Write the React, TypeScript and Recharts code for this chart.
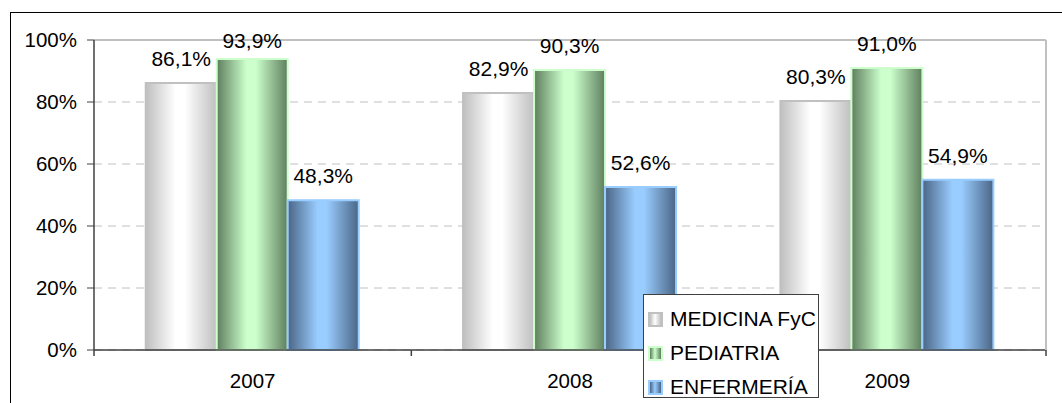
import { Bar, BarChart, CartesianGrid, LabelList, ReferenceLine, XAxis, YAxis } from 'recharts'

const years = ['2007', '2008', '2009']
const medicina = [86.1, 82.9, 80.3]
const pediatria = [93.9, 90.3, 91.0]
const enfermeria = [48.3, 52.6, 54.9]
const yTicks = [0, 20, 40, 60, 80, 100]

const series = [
  { key: 'medicina', name: 'MEDICINA FyC', dark: '#bfbfbf', light: '#ffffff', stroke: '#c0c0c0' },
  { key: 'pediatria', name: 'PEDIATRIA', dark: '#5e7e5e', light: '#ccffcc', stroke: '#ccffcc' },
  { key: 'enfermeria', name: 'ENFERMERÍA', dark: '#4a6585', light: '#99ccff', stroke: '#99ccff' },
]

const chartData = years.map((year, i) => ({
  year,
  medicina: medicina[i],
  pediatria: pediatria[i],
  enfermeria: enfermeria[i],
}))

const FONT = '"Liberation Sans", Arial, sans-serif'
const TICK_MARGIN = 23

function pct(v: number) {
  return v.toFixed(1).replace('.', ',') + '%'
}

// Excel pushes labels down when they would leave the chart area
function TopLabel(props: any) {
  const { x, y, width, value } = props
  const baseline = Math.max(Number(y) - 17, 48)
  return (
    <text x={Number(x) + Number(width) / 2} y={baseline} textAnchor="middle" fontSize={21} fill="#000" fontFamily={FONT}>
      {pct(Number(value))}
    </text>
  )
}

// category label plus Excel-style tick marks on the category boundaries
function YearTick(props: any) {
  const { x, y, payload } = props
  const half = Number(payload?.offset ?? 0)
  const axisY = Number(y) - TICK_MARGIN
  const last = payload?.index === years.length - 1
  return (
    <g>
      <line x1={x - half} x2={x - half} y1={axisY} y2={axisY + 6} stroke="#404040" strokeWidth={1.5} />
      {last ? <line x1={x + half} x2={x + half} y1={axisY} y2={axisY + 6} stroke="#404040" strokeWidth={1.5} /> : null}
      <text x={x} y={y} dy="0.71em" textAnchor="middle" fontSize={20.5} fill="#000" fontFamily={FONT}>
        {payload?.value}
      </text>
    </g>
  )
}

export default function App() {
  return (
    <div style={{ position: 'absolute', left: 0, top: 0, width: 1062, height: 403, background: '#fff', overflow: 'hidden', fontFamily: FONT }}>
      <div style={{ position: 'absolute', left: 10, top: 12, width: 1100, height: 450, borderLeft: '1px solid #000', borderTop: '1px solid #000' }} />
      <BarChart
        width={1062}
        height={403}
        data={chartData}
        margin={{ top: 40, right: 15, bottom: 0, left: 10 }}
        barCategoryGap="16.3%"
        barGap={0}
      >
        <defs>
          {series.map((s) => (
            <linearGradient key={s.key} id={`grad-${s.key}`} x1="0" y1="0" x2="1" y2="0">
              <stop offset="0%" stopColor={s.dark} />
              <stop offset="42%" stopColor={s.light} />
              <stop offset="55%" stopColor={s.light} />
              <stop offset="100%" stopColor={s.dark} />
            </linearGradient>
          ))}
        </defs>
        <CartesianGrid vertical={false} stroke="#c0c0c0" strokeDasharray="8 6" />
        <ReferenceLine y={100} stroke="#c0c0c0" strokeWidth={2} />
        <XAxis
          dataKey="year"
          height={53}
          tickLine={false}
          tickSize={0}
          tickMargin={TICK_MARGIN}
          axisLine={{ stroke: '#404040', strokeWidth: 1.5 }}
          tick={<YearTick />}
        />
        <YAxis
          domain={[0, 100]}
          ticks={yTicks}
          width={84}
          tickSize={7}
          tickMargin={10}
          tickFormatter={(v) => `${v}%`}
          axisLine={{ stroke: '#404040', strokeWidth: 1.5 }}
          tickLine={{ stroke: '#404040' }}
          tick={{ fill: '#000', fontSize: 20.5, fontFamily: FONT }}
        />
        <YAxis
          yAxisId="right"
          orientation="right"
          domain={[0, 100]}
          width={1}
          tick={false}
          tickLine={false}
          axisLine={{ stroke: '#c0c0c0', strokeWidth: 2 }}
        />
        {series.map((s) => (
          <Bar
            key={s.key}
            dataKey={s.key}
            name={s.name}
            fill={`url(#grad-${s.key})`}
            stroke={s.stroke}
            strokeWidth={2}
            isAnimationActive={false}
          >
            <LabelList dataKey={s.key} content={<TopLabel />} />
          </Bar>
        ))}
      </BarChart>
      <div
        style={{
          position: 'absolute',
          left: 643,
          top: 294,
          width: 176,
          height: 104,
          border: '1px solid #404040',
          background: '#fff',
          boxSizing: 'border-box',
          paddingTop: 7,
        }}
      >
        {series.map((s) => (
          <div key={s.key} style={{ display: 'flex', alignItems: 'center', height: 34, fontSize: 21, color: '#000' }}>
            <div
              style={{
                width: 11,
                height: 11,
                marginLeft: 4,
                marginRight: 7,
                border: `2px solid ${s.stroke}`,
                background: `linear-gradient(to right, ${s.dark}, ${s.light} 45%, ${s.dark})`,
              }}
            />
            <span>{s.name}</span>
          </div>
        ))}
      </div>
    </div>
  )
}
